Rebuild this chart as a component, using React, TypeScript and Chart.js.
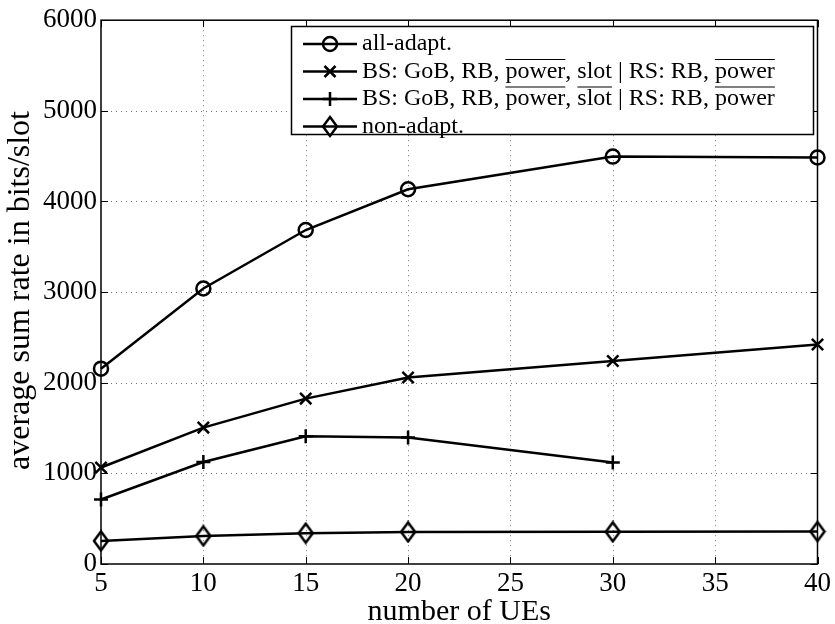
import React, { useEffect, useRef } from "react";
import { Chart, registerables } from "chart.js";

Chart.register(...registerables);

// ---- data ----
const xValues = [5, 10, 15, 20, 30, 40];
const xValuesNoSlot = [5, 10, 15, 20, 30];
const allAdapt = [2155, 3040, 3685, 4135, 4495, 4485];
const bsSlot = [1065, 1505, 1825, 2058, 2240, 2422];
const bsNoSlot = [712, 1125, 1410, 1395, 1120];
const nonAdapt = [255, 310, 340, 354, 355, 358];

const xTicks = [5, 10, 15, 20, 25, 30, 35, 40];
const yTicks = [0, 1000, 2000, 3000, 4000, 5000, 6000];

const xTitle = "number of UEs";
const yTitle = "average sum rate in bits/slot";

// legend segments: [text, overline]
const legendRows: { style: string; parts: [string, boolean][] }[] = [
  { style: "circle", parts: [["all-adapt.", false]] },
  {
    style: "crossRot",
    parts: [
      ["BS: GoB, RB, ", false],
      ["power", true],
      [", ", false],
      ["slot", false],
      [" | RS: RB, ", false],
      ["power", true],
    ],
  },
  {
    style: "cross",
    parts: [
      ["BS: GoB, RB, ", false],
      ["power", true],
      [", ", false],
      ["slot", true],
      [" | RS: RB, ", false],
      ["power", true],
    ],
  },
  { style: "diamond", parts: [["non-adapt.", false]] },
];

const FONT = "'Liberation Serif', 'Times New Roman', serif";
const TICK_SIZE = 27;
const XTITLE_SIZE = 30;
const YTITLE_SIZE = 32;
const LEGEND_SIZE = 24;
const LW = 2.5;

function drawMarker(ctx: CanvasRenderingContext2D, style: string, x: number, y: number) {
  ctx.save();
  ctx.strokeStyle = "#000";
  ctx.lineWidth = LW;
  ctx.beginPath();
  if (style === "circle") {
    ctx.arc(x, y, 7, 0, Math.PI * 2);
  } else if (style === "crossRot") {
    const r = 5.5;
    ctx.moveTo(x - r, y - r);
    ctx.lineTo(x + r, y + r);
    ctx.moveTo(x - r, y + r);
    ctx.lineTo(x + r, y - r);
  } else if (style === "cross") {
    const r = 7;
    ctx.moveTo(x - r, y);
    ctx.lineTo(x + r, y);
    ctx.moveTo(x, y - r);
    ctx.lineTo(x, y + r);
  } else if (style === "diamond") {
    ctx.moveTo(x, y - 9.5);
    ctx.lineTo(x + 7, y);
    ctx.lineTo(x, y + 9.5);
    ctx.lineTo(x - 7, y);
    ctx.closePath();
  }
  ctx.stroke();
  ctx.restore();
}

function makeDiamond(): HTMLCanvasElement {
  const c = document.createElement("canvas");
  c.width = 18;
  c.height = 23;
  const ctx = c.getContext("2d")!;
  drawMarker(ctx, "diamond", 9, 11.5);
  return c;
}

const framePlugin = {
  id: "matlabFrame",
  beforeDatasetsDraw(chart: any) {
    const { ctx, chartArea: a, scales } = chart;
    const xs = scales.x;
    const ys = scales.y;
    ctx.save();
    // dotted grid
    ctx.strokeStyle = "#777";
    ctx.lineWidth = 1;
    ctx.setLineDash([1, 4]);
    for (const t of xTicks.slice(1, -1)) {
      const px = Math.round(xs.getPixelForValue(t)) + 0.5;
      ctx.beginPath();
      ctx.moveTo(px, a.top);
      ctx.lineTo(px, a.bottom);
      ctx.stroke();
    }
    for (const t of yTicks.slice(1, -1)) {
      const py = Math.round(ys.getPixelForValue(t)) + 0.5;
      ctx.beginPath();
      ctx.moveTo(a.left, py);
      ctx.lineTo(a.right, py);
      ctx.stroke();
    }
    ctx.setLineDash([]);
    // frame
    ctx.strokeStyle = "#000";
    ctx.lineWidth = 1.5;
    ctx.strokeRect(a.left, a.top, a.right - a.left, a.bottom - a.top);
    // inner ticks
    const tl = 7;
    ctx.lineWidth = 1;
    for (const t of xTicks) {
      const px = Math.round(xs.getPixelForValue(t)) + 0.5;
      ctx.beginPath();
      ctx.moveTo(px, a.bottom);
      ctx.lineTo(px, a.bottom - tl);
      ctx.moveTo(px, a.top);
      ctx.lineTo(px, a.top + tl);
      ctx.stroke();
    }
    for (const t of yTicks) {
      const py = Math.round(ys.getPixelForValue(t)) + 0.5;
      ctx.beginPath();
      ctx.moveTo(a.left, py);
      ctx.lineTo(a.left + tl, py);
      ctx.moveTo(a.right, py);
      ctx.lineTo(a.right - tl, py);
      ctx.stroke();
    }
    // axis titles
    ctx.fillStyle = "#000";
    ctx.textBaseline = "alphabetic";
    ctx.textAlign = "center";
    ctx.font = `${XTITLE_SIZE}px ${FONT}`;
    ctx.fillText(xTitle, (a.left + a.right) / 2, 620);
    ctx.save();
    ctx.translate(29, 290.5);
    ctx.rotate(-Math.PI / 2);
    ctx.font = `${YTITLE_SIZE}px ${FONT}`;
    ctx.fillText(yTitle, 0, 0);
    ctx.restore();
    ctx.restore();
  },
  afterDatasetsDraw(chart: any) {
    const { ctx } = chart;
    ctx.save();
    const bx = 291, by = 26, bw = 522, bh = 108;
    ctx.fillStyle = "#fff";
    ctx.fillRect(bx, by, bw, bh);
    ctx.strokeStyle = "#000";
    ctx.lineWidth = 1.5;
    ctx.strokeRect(bx + 0.5, by + 0.5, bw, bh);
    const rowY = [44, 71.5, 99, 126.5];
    ctx.font = `${LEGEND_SIZE}px ${FONT}`;
    ctx.fillStyle = "#000";
    ctx.textBaseline = "middle";
    ctx.textAlign = "left";
    legendRows.forEach((row, i) => {
      const y = rowY[i];
      ctx.strokeStyle = "#000";
      ctx.lineWidth = LW;
      ctx.beginPath();
      ctx.moveTo(303, y);
      ctx.lineTo(357, y);
      ctx.stroke();
      drawMarker(ctx, row.style, 330, y);
      let x = 362;
      for (const [text, over] of row.parts) {
        const w = ctx.measureText(text).width;
        ctx.fillText(text, x, y);
        if (over) {
          ctx.lineWidth = 1.2;
          ctx.beginPath();
          ctx.moveTo(x, y - LEGEND_SIZE * 0.5);
          ctx.lineTo(x + w, y - LEGEND_SIZE * 0.5);
          ctx.stroke();
        }
        x += w;
      }
    });
    ctx.restore();
  },
};

function mkDataset(xv: number[], yv: number[], style: any, radius: number) {
  return {
    data: xv.map((x, i) => ({ x, y: yv[i] })),
    borderColor: "#000",
    borderWidth: LW,
    pointStyle: style,
    pointRadius: radius,
    pointBorderWidth: LW,
    pointBorderColor: "#000",
    pointBackgroundColor: "rgba(0,0,0,0)",
    clip: false as any,
    tension: 0,
    fill: false,
  };
}

export default function App() {
  const ref = useRef<HTMLCanvasElement>(null);
  useEffect(() => {
    document.body.style.margin = "0";
    const chart = new Chart(ref.current!, {
      type: "line",
      data: {
        datasets: [
          mkDataset(xValues, allAdapt, "circle", 7),
          mkDataset(xValues, bsSlot, "crossRot", 8),
          mkDataset(xValuesNoSlot, bsNoSlot, "cross", 7),
          mkDataset(xValues, nonAdapt, makeDiamond(), 9),
        ] as any,
      },
      options: {
        animation: false,
        responsive: false,
        maintainAspectRatio: false,
        layout: { padding: { left: 0, right: 15, top: 17, bottom: 0 } },
        plugins: { legend: { display: false }, tooltip: { enabled: false } },
        scales: {
          x: {
            type: "linear",
            min: 5,
            max: 40,
            afterFit: (s: any) => {
              s.height = 60;
            },
            afterBuildTicks: (s: any) => {
              s.ticks = xTicks.map((v) => ({ value: v }));
            },
            ticks: {
              color: "#000",
              font: { family: FONT, size: TICK_SIZE },
              padding: 4,
              maxRotation: 0,
              autoSkip: false,
              callback: (v: any) => String(v),
            },
            grid: { display: false, drawTicks: false },
            border: { display: false },
          },
          y: {
            type: "linear",
            min: 0,
            max: 6000,
            afterFit: (s: any) => {
              s.width = 101;
            },
            afterBuildTicks: (s: any) => {
              s.ticks = yTicks.map((v) => ({ value: v }));
            },
            ticks: {
              color: "#000",
              font: { family: FONT, size: TICK_SIZE },
              padding: 4,
              autoSkip: false,
              callback: (v: any) => String(v),
            },
            grid: { display: false, drawTicks: false },
            border: { display: false },
          },
        },
      },
      plugins: [framePlugin],
    });
    return () => chart.destroy();
  }, []);
  return (
    <div style={{ position: "absolute", left: 0, top: 0, width: 835, height: 624 }}>
      <canvas ref={ref} width={835} height={624} style={{ width: 835, height: 624 }} />
    </div>
  );
}
